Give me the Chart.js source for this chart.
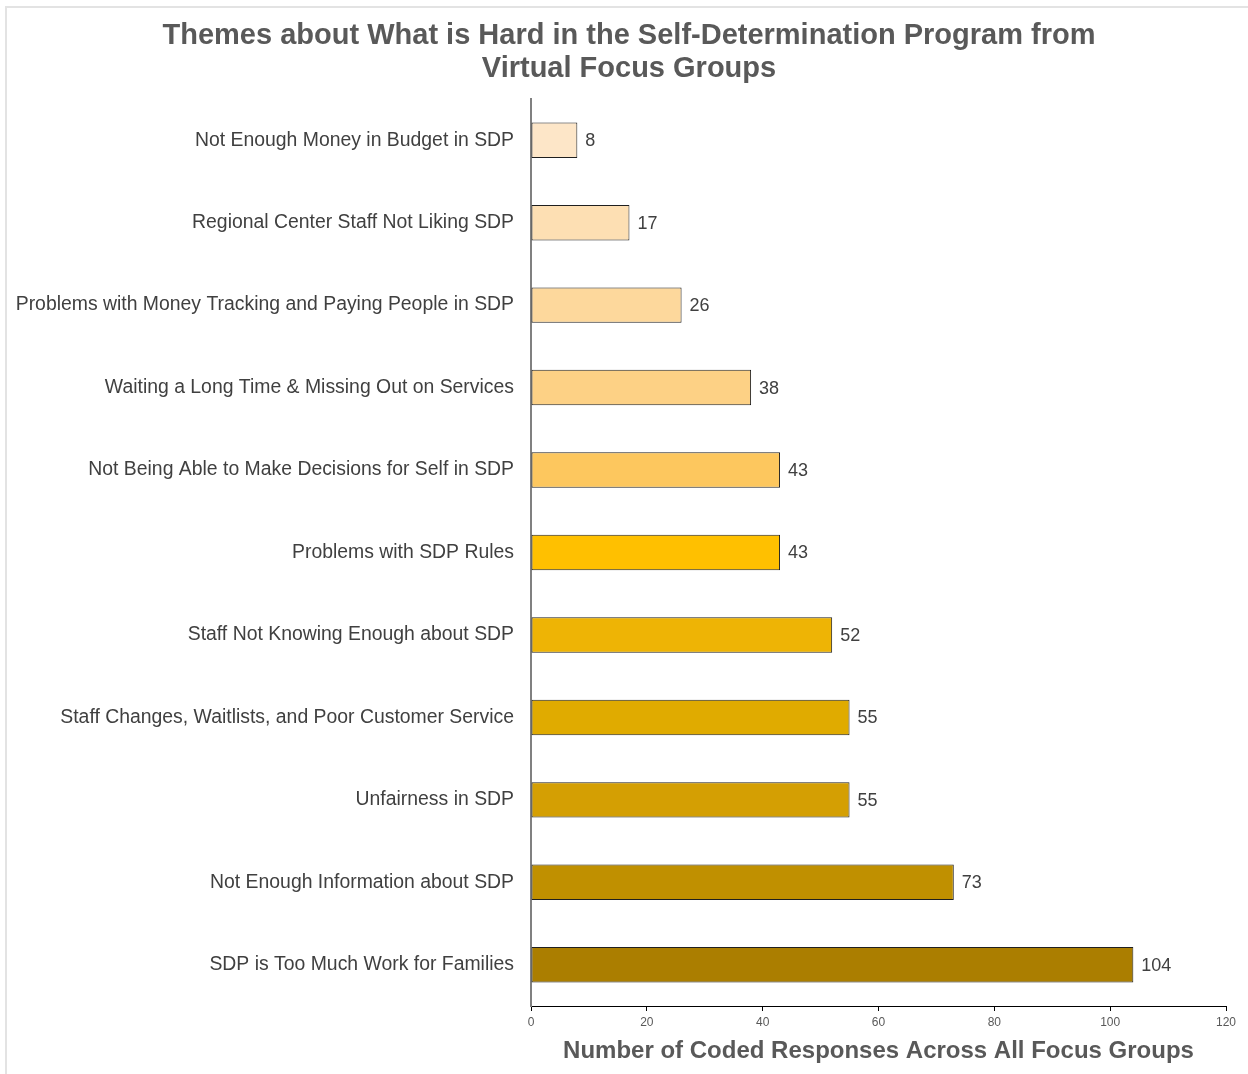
<!DOCTYPE html>
<html>
<head>
<meta charset="utf-8">
<script src="https://cdn.jsdelivr.net/npm/chart.js@4"></script>
<style>
  html, body { margin: 0; padding: 0; background: #ffffff; }
  #wrap { position: relative; width: 1248px; height: 1074px; }
  #frame { position: absolute; left: 5px; top: 6px; width: 1300px; height: 1200px;
           border-left: 2px solid #e3e3e3; border-top: 2px solid #e3e3e3; pointer-events: none; }
  canvas { position: absolute; left: 0; top: 0; }
</style>
</head>
<body>
<div id="wrap">
  <div id="frame"></div>
  <canvas id="c" width="1248" height="1074"></canvas>
</div>
<script>
const categories = [
  "Not Enough Money in Budget in SDP",
  "Regional Center Staff Not Liking SDP",
  "Problems with Money Tracking and Paying People in SDP",
  "Waiting a Long Time & Missing Out on Services",
  "Not Being Able to Make Decisions for Self in SDP",
  "Problems with SDP Rules",
  "Staff Not Knowing Enough about SDP",
  "Staff Changes, Waitlists, and Poor Customer Service",
  "Unfairness in SDP",
  "Not Enough Information about SDP",
  "SDP is Too Much Work for Families"
];
const counts = [8, 17, 26, 38, 43, 43, 52, 55, 55, 73, 104];
const barColors = [
  "#FDE6C8", "#FDDFB3", "#FDD89C", "#FDD185", "#FDC75E",
  "#FFC000", "#EEB405", "#E0AB00", "#D49F03", "#C09000", "#AB7E00"
];
const xTicks = [0, 20, 40, 60, 80, 100, 120];
const chartTitle = ["Themes about What is Hard in the Self-Determination Program from", "Virtual Focus Groups"];
const xTitle = "Number of Coded Responses Across All Focus Groups";

const FONT = "'Liberation Sans', Arial, sans-serif";

const valueLabels = {
  id: "valueLabels",
  afterDatasetsDraw(chart) {
    const ctx = chart.ctx;
    const meta = chart.getDatasetMeta(0);
    ctx.save();
    ctx.font = "18px " + FONT;
    ctx.fillStyle = "#404040";
    ctx.textAlign = "left";
    ctx.textBaseline = "middle";
    meta.data.forEach((bar, i) => {
      ctx.fillText(String(counts[i]), bar.x + 8, bar.y + 1);
    });
    ctx.restore();
  }
};

// let the long category labels use the space left of the layout padding
const unclipLabels = {
  id: "unclipLabels",
  afterLayout(chart) { chart.scales.y.left = 0; }
};

new Chart(document.getElementById("c"), {
  type: "bar",
  data: {
    labels: categories,
    datasets: [{
      data: counts,
      backgroundColor: barColors,
      borderColor: "#1f1f1f",
      borderWidth: 1,
      borderSkipped: false,
      categoryPercentage: 1,
      barPercentage: 0.43
    }]
  },
  options: {
    indexAxis: "y",
    responsive: false,
    animation: false,
    layout: { padding: { left: 32, right: 22, top: 0, bottom: 0 } },
    plugins: {
      legend: { display: false },
      tooltip: { enabled: false },
      title: {
        display: true,
        text: chartTitle,
        color: "#595959",
        font: { family: FONT, size: 29, weight: "bold", lineHeight: "33px" },
        padding: { top: 19, bottom: 14 }
      }
    },
    scales: {
      x: {
        min: 0, max: 120,
        afterBuildTicks(scale) { scale.ticks = xTicks.map(v => ({ value: v })); },
        afterFit(scale) { scale.height = 68; },
        grid: { display: true, drawOnChartArea: false, drawTicks: true, tickLength: 5, color: "#000000", lineWidth: 1 },
        border: { display: true, color: "#000000", width: 1 },
        ticks: { color: "#595959", font: { family: FONT, size: 12 }, padding: 4, maxRotation: 0 },
        title: {
          display: true, text: xTitle, color: "#595959",
          font: { family: FONT, size: 24, weight: "bold", lineHeight: 1.2 },
          padding: { top: 0, bottom: 8 }
        }
      },
      y: {
        afterFit(scale) { scale.width = 499; },
        grid: { display: false, drawTicks: false },
        border: { display: true, color: "#808080", width: 2 },
        ticks: { color: "#404040", font: { family: FONT, size: 19.4 }, padding: 17, autoSkip: false }
      }
    }
  },
  plugins: [valueLabels, unclipLabels]
});
</script>
</body>
</html>
